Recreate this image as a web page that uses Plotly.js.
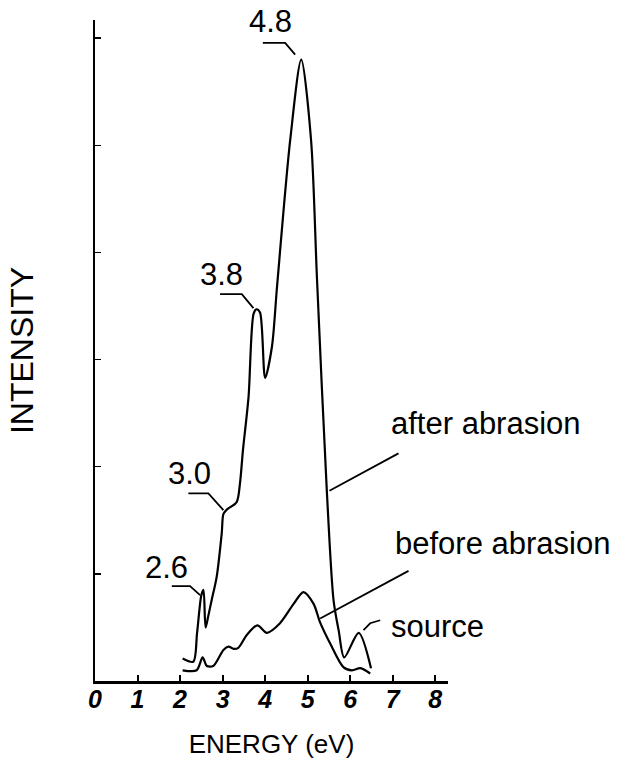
<!DOCTYPE html>
<html>
<head>
<meta charset="utf-8">
<script src="https://cdn.plot.ly/plotly-3.0.1.min.js"></script>
<style>html,body{margin:0;padding:0;background:#fff;}#chart{width:629px;height:764px;}</style>
</head>
<body>
<div id="chart"></div>
<script>
// Energy (eV) and intensity (arbitrary units)
const afterEnergy = [2.06, 2.31, 2.40, 2.50, 2.55, 2.60, 2.66, 2.74, 2.86, 2.98, 3.02, 3.10, 3.33, 3.41, 3.48, 3.61, 3.73, 3.80, 3.88, 4.00, 4.16, 4.28, 4.59, 4.85, 5.08, 5.22, 5.45, 5.61, 5.73, 5.86, 6.20, 6.49];
const afterIntensity = [0.21, 0.18, 0.45, 0.80, 0.85, 0.50, 0.60, 0.75, 0.97, 1.38, 1.56, 1.60, 1.67, 1.85, 2.16, 2.65, 3.43, 3.47, 3.44, 2.83, 3.12, 3.68, 5.05, 5.80, 5.05, 3.75, 1.78, 0.75, 0.47, 0.22, 0.45, 0.12];

const beforeEnergy = [2.06, 2.39, 2.53, 2.63, 2.78, 3.02, 3.14, 3.26, 3.37, 3.57, 3.82, 4.04, 4.35, 4.67, 4.90, 5.14, 5.29, 5.53, 5.84, 6.04, 6.24, 6.47];
const beforeIntensity = [0.10, 0.10, 0.22, 0.14, 0.14, 0.29, 0.32, 0.30, 0.31, 0.43, 0.52, 0.45, 0.54, 0.72, 0.83, 0.72, 0.55, 0.35, 0.13, 0.10, 0.12, 0.07];

const xTicks = [0, 1, 2, 3, 4, 5, 6, 7, 8];
const xTickLabels = ['0', '1', '2', '3', '4', '5', '6', '7', '8'];
const yTicks = [1, 2, 3, 4, 5, 6];

const peakLabels = ['4.8', '3.8', '3.0', '2.6'];
const curveLabels = ['after abrasion', 'before abrasion', 'source'];

const lineStyle = {color: '#000', width: 2.2, shape: 'spline', smoothing: 0.8};

const traces = [
  {x: afterEnergy, y: afterIntensity, mode: 'lines', line: lineStyle, hoverinfo: 'skip'},
  {x: beforeEnergy, y: beforeIntensity, mode: 'lines', line: lineStyle, hoverinfo: 'skip'}
];

const FAM = 'Liberation Sans, Arial, sans-serif';
function label(text, x, y, size) {
  return {text: text, x: x, y: y, xref: 'paper', yref: 'paper', showarrow: false,
          font: {family: FAM, size: size, color: '#000'}, xanchor: 'center', yanchor: 'middle'};
}
function leader(pts) {
  let d = 'M' + pts.map(p => p[0] + ',' + p[1]).join(' L');
  return {type: 'path', path: d, xref: 'x', yref: 'y', line: {color: '#000', width: 1.8}};
}

const layout = {
  width: 629, height: 764,
  margin: {l: 95, r: 181.25, t: 20, b: 83.3},
  paper_bgcolor: '#fff', plot_bgcolor: '#fff',
  showlegend: false,
  xaxis: {
    range: [0, 8.3], tickvals: xTicks, ticktext: xTickLabels,
    ticks: 'inside', ticklen: 6, tickwidth: 2, tickcolor: '#000',
    showline: true, linecolor: '#000', linewidth: 2.5,
    showgrid: false, zeroline: false, ticklabelstandoff: -6,
    tickfont: {family: FAM, size: 25, style: 'italic', weight: 'bold', color: '#000'},
    title: {text: 'ENERGY (eV)', standoff: 24, font: {family: FAM, size: 26, color: '#000'}}
  },
  yaxis: {
    range: [0, 6.17], tickvals: yTicks,
    ticks: 'inside', ticklen: 6, tickwidth: 1.5, tickcolor: '#000',
    showline: true, linecolor: '#000', linewidth: 2.5,
    showgrid: false, zeroline: false, showticklabels: false,
    title: {text: 'INTENSITY', standoff: 50, font: {family: FAM, size: 32, color: '#000'}}
  },
  annotations: [
    label(peakLabels[0], 0.496, 0.997, 31),
    label(peakLabels[1], 0.3586, 0.6154, 31),
    label(peakLabels[2], 0.2665, 0.3144, 31),
    label(peakLabels[3], 0.2027, 0.1721, 31),
    label(curveLabels[0], 1.1084, 0.390, 31),
    label(curveLabels[1], 1.1538, 0.2084, 31),
    label(curveLabels[2], 0.9695, 0.0828, 31)
  ],
  shapes: [
    leader([[3.946, 5.957], [4.471, 5.957], [4.706, 5.847]]),
    leader([[2.941, 3.611], [3.452, 3.611], [3.725, 3.480]]),
    leader([[2.195, 1.751], [2.666, 1.751], [3.019, 1.595]]),
    leader([[1.805, 0.885], [2.235, 0.885], [2.471, 0.801]]),
    leader([[7.136, 2.125], [5.513, 1.776]]),
    leader([[7.372, 1.028], [5.294, 0.583]]),
    leader([[6.706, 0.567], [6.47, 0.539], [6.313, 0.474]])
  ]
};

Plotly.newPlot('chart', traces, layout, {displayModeBar: false, staticPlot: true});
</script>
</body>
</html>
